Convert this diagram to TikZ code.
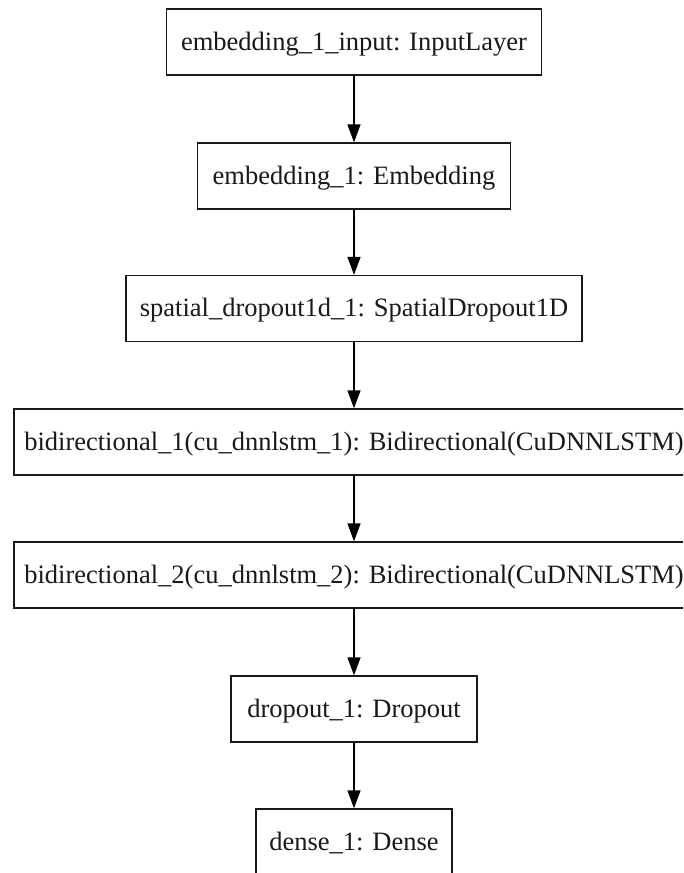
\documentclass[tikz,border=0pt]{standalone}
\usepackage{fontspec}
\setmainfont{Liberation Serif}
\usetikzlibrary{arrows.meta}
\begin{document}
\begin{tikzpicture}[x=1pt,y=-1pt,
  layer/.style={draw=black!90, line width=1.3pt, fill=white, inner sep=0pt,
    minimum height=66pt, text height=22pt, text depth=6pt,
    font=\fontsize{26.5}{30}\selectfont, text=black!90},
  flow/.style={draw=black, line width=1.3pt, -{Triangle[length=18pt,width=13pt]}}]
\useasboundingbox (0,0) rectangle (683,873);
\clip (0,0) rectangle (683,873);
\fill[white] (0,0) rectangle (683,873);
\node[layer, minimum width=375pt] (n1) at (354,42) {embedding\_1\_input: InputLayer};
\node[layer, minimum width=313pt] (n2) at (354,176) {embedding\_1: Embedding};
\node[layer, minimum width=456pt] (n3) at (354,308.5) {spatial\_dropout1d\_1: SpatialDropout1D};
\node[layer, minimum width=680pt] (n4) at (354,442) {bidirectional\_1(cu\_dnnlstm\_1): Bidirectional(CuDNNLSTM)};
\node[layer, minimum width=680pt] (n5) at (354,575) {bidirectional\_2(cu\_dnnlstm\_2): Bidirectional(CuDNNLSTM)};
\node[layer, minimum width=246pt] (n6) at (354,709) {dropout\_1: Dropout};
\node[layer, minimum width=196pt] (n7) at (354,842) {dense\_1: Dense};
\draw[flow] (n1) -- (n2);
\draw[flow] (n2) -- (n3);
\draw[flow] (n3) -- (n4);
\draw[flow] (n4) -- (n5);
\draw[flow] (n5) -- (n6);
\draw[flow] (n6) -- (n7);
\end{tikzpicture}
\end{document}
